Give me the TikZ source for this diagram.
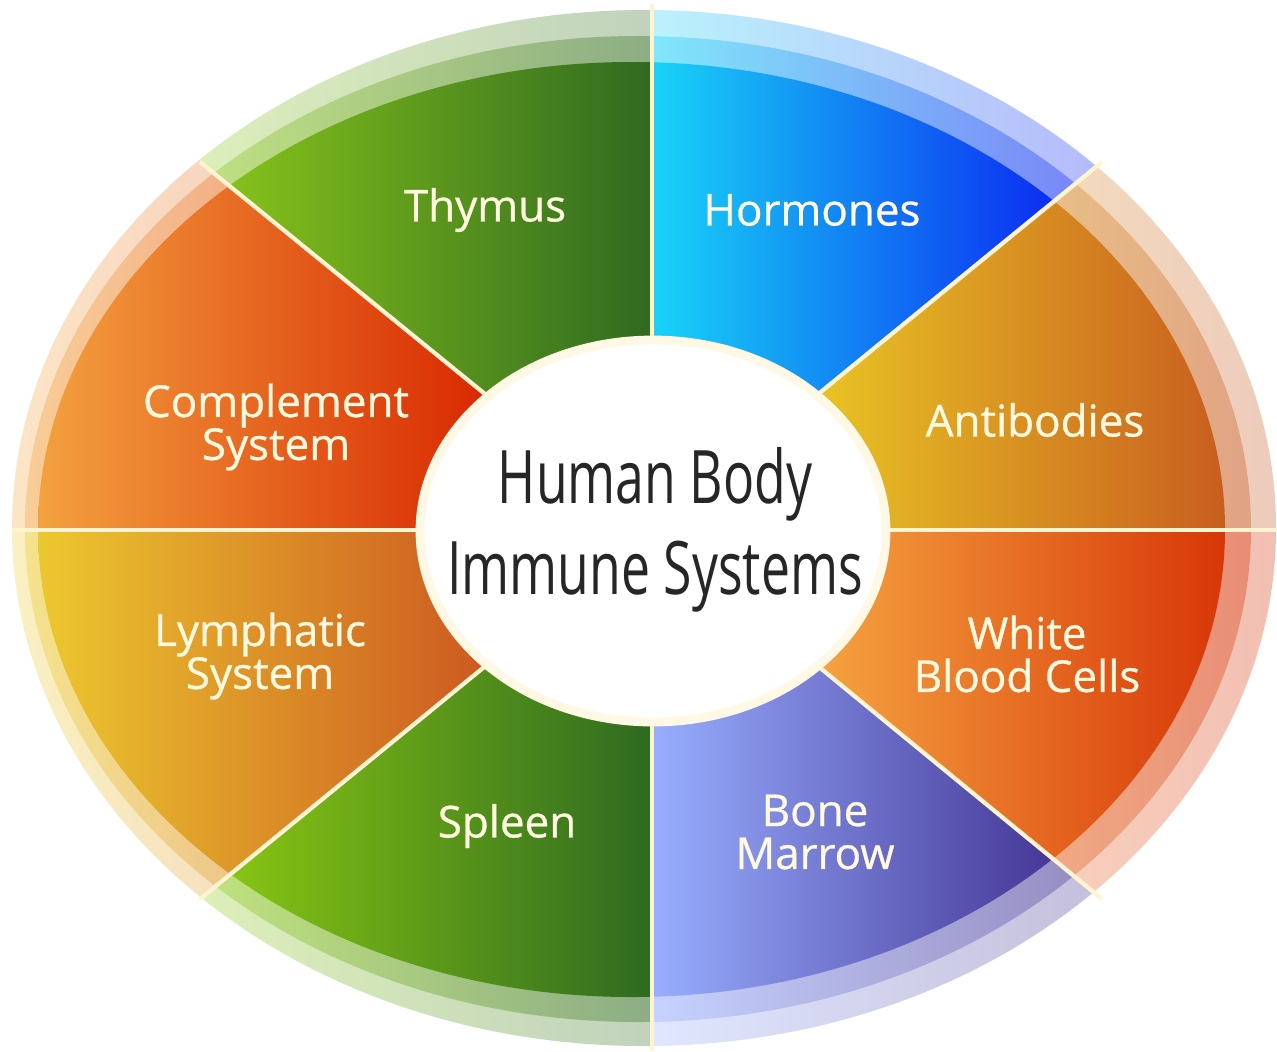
\documentclass[tikz,border=0pt]{standalone}
\usepackage{fontspec}
\setmainfont{Open Sans}
\newfontfamily\lblfont{Open Sans}[FakeBold=0.7]
\usepackage{graphicx}
\definecolor{thyL}{HTML}{8CC81A}\definecolor{thyR}{HTML}{2F6A20}
\definecolor{horL}{HTML}{18D4F6}\definecolor{horR}{HTML}{0A18F0}
\definecolor{antL}{HTML}{E8C424}\definecolor{antR}{HTML}{C4501E}
\definecolor{wbcL}{HTML}{F5A440}\definecolor{wbcR}{HTML}{D42800}
\definecolor{bonL}{HTML}{98AEFF}\definecolor{bonR}{HTML}{3A2888}
\definecolor{splL}{HTML}{8ECC12}\definecolor{splR}{HTML}{2E6A20}
\definecolor{lymL}{HTML}{EED030}\definecolor{lymR}{HTML}{CC5820}
\definecolor{comL}{HTML}{F5AA44}\definecolor{comR}{HTML}{D82800}
\definecolor{cream}{HTML}{FFF4D2}
\definecolor{lblcol}{HTML}{FFF9E0}
\definecolor{titlecol}{HTML}{262626}
\newcommand\drawsector[5]{%
  \begin{scope}
    \clip #1;
    \begin{scope}
      \clip (644,528) ellipse [x radius=632, y radius=518];
      \shade[left color=#4!30!white, right color=#5!30!white] (#2,0) rectangle (#3,1051);
    \end{scope}
    \begin{scope}
      \clip (638,529) ellipse [x radius=613, y radius=493];
      \shade[left color=#4!55!white, right color=#5!55!white] (#2,0) rectangle (#3,1051);
    \end{scope}
    \begin{scope}
      \clip (631.5,529.5) ellipse [x radius=593.5, y radius=467.5];
      \shade[left color=#4, right color=#5] (#2,0) rectangle (#3,1051);
    \end{scope}
  \end{scope}}
\begin{document}
\begin{tikzpicture}[x=0.01cm,y=-0.01cm,
  lbl/.style={font=\lblfont\fontsize{12.5pt}{12.2pt}\selectfont, align=center, text=lblcol, inner sep=0pt},
  divider/.style={draw=cream, line width=1.2pt},
  titlestyle/.style={font=\fontsize{21pt}{26pt}\selectfont, align=center, text=titlecol, inner sep=0pt}]
\fill[white] (0,0) rectangle (1277,1051);
\useasboundingbox (0,0) rectangle (1277,1051);
% sectors
\drawsector{(652,530) -- (652,-400) -- (-356,-292) -- cycle}{195}{652}{thyL}{thyR}
\drawsector{(652,530) -- (652,-400) -- (1660,-292) -- cycle}{652}{1105}{horL}{horR}
\drawsector{(652,530) -- (1660,-292) -- (1700,530) -- cycle}{815}{1280}{antL}{antR}
\drawsector{(652,530) -- (1700,530) -- (1660,1352) -- cycle}{815}{1280}{wbcL}{wbcR}
\drawsector{(652,530) -- (1660,1352) -- (652,1500) -- cycle}{652}{1105}{bonL}{bonR}
\drawsector{(652,530) -- (652,1500) -- (-356,1352) -- cycle}{195}{652}{splL}{splR}
\drawsector{(652,530) -- (-356,1352) -- (-400,530) -- cycle}{5}{490}{lymL}{lymR}
\drawsector{(652,530) -- (-400,530) -- (-356,-292) -- cycle}{5}{490}{comL}{comR}
% dividers
\coordinate (C) at (652,530);
\coordinate (eU) at (652,4);
\coordinate (eD) at (652,1051);
\coordinate (eL) at (12,530);
\coordinate (eR) at (1277,530);
\coordinate (eUL) at (200,162);
\coordinate (eUR) at (1102,162);
\coordinate (eDL) at (200,899);
\coordinate (eDR) at (1102,899);
\foreach \e in {eU,eD,eL,eR,eUL,eUR,eDL,eDR}{\draw[divider] (C) -- (\e);}
% center
\draw[draw=cream!60!white, line width=2.5pt, fill=white] (653,531) ellipse [x radius=233, y radius=191];
\node[titlestyle] (title) at (655,530) {\scalebox{0.70}[1]{Human Body}\\\scalebox{0.70}[1]{Immune Systems}};
% labels
\node[lbl] (thymus) at (485,210) {Thymus};
\node[lbl] (hormones) at (812,210) {Hormones};
\node[lbl] (complement) at (276,427) {Complement\\System};
\node[lbl] (antibodies) at (1035,420) {Antibodies};
\node[lbl] (lymphatic) at (260,656) {Lymphatic\\System};
\node[lbl] (wbc) at (1027,654) {White\\Blood Cells};
\node[lbl] (spleen) at (507,826) {Spleen};
\node[lbl] (bone) at (815,832) {Bone\\Marrow};
\end{tikzpicture}
\end{document}
